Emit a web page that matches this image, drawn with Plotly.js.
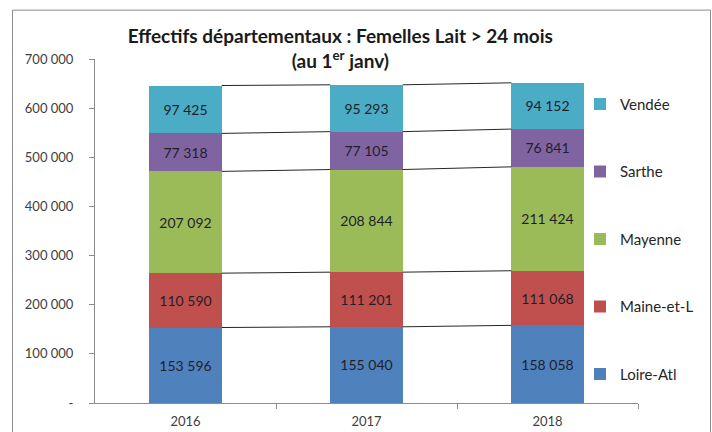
<!DOCTYPE html>
<html>
<head>
<meta charset="utf-8">
<script src="https://cdn.plot.ly/plotly-3.0.1.min.js"></script>
<style>html,body{margin:0;padding:0;background:#fff;}#chart{width:712px;height:432px;}</style>
</head>
<body>
<div id="chart"></div>
<script>
var years = ['2016', '2017', '2018'];
var seriesNames = ['Loire-Atl', 'Maine-et-L', 'Mayenne', 'Sarthe', 'Vendée'];
var loireAtl = [153596, 155040, 158058];
var maineEtL = [110590, 111201, 111068];
var mayenne = [207092, 208844, 211424];
var sarthe = [77318, 77105, 76841];
var vendee = [97425, 95293, 94152];
var colors = ['#4F81BD', '#C0504D', '#9BBB59', '#8064A2', '#4BACC6'];
var yTickVals = [0, 100000, 200000, 300000, 400000, 500000, 600000, 700000];
var yTickText = ['-', '100 000', '200 000', '300 000', '400 000', '500 000', '600 000', '700 000'];

var allSeries = [loireAtl, maineEtL, mayenne, sarthe, vendee];
var xIdx = years.map(function(_, i){ return i; });
var barW = 0.4;
var FONT = 'Lato, Carlito, "Open Sans", sans-serif';

function fmt(v){ return String(v).replace(/\B(?=(\d{3})+(?!\d))/g, ' '); }

var traces = [];
allSeries.forEach(function(vals, s){
  traces.push({
    type: 'bar', x: xIdx, y: vals, name: seriesNames[s],
    width: barW, marker: {color: colors[s], line: {width: 0}},
    text: vals.map(fmt), textposition: 'inside', insidetextanchor: 'middle',
    textangle: 0, constraintext: 'none',
    textfont: {family: FONT, size: 14, color: '#1f1f2a'},
    legendgroup: 'g' + s, legendrank: allSeries.length - s, hoverinfo: 'x+y+name'
  });
});

// series lines connecting stack boundaries
var cum = xIdx.map(function(){ return 0; });
var lx = [], ly = [];
allSeries.forEach(function(vals){
  cum = cum.map(function(c, i){ return c + vals[i]; });
  for (var i = 0; i < xIdx.length - 1; i++) {
    lx.push(xIdx[i] + barW/2, xIdx[i+1] - barW/2, null);
    ly.push(cum[i], cum[i+1], null);
  }
});
traces.push({type: 'scatter', mode: 'lines', x: lx, y: ly, showlegend: false,
  hoverinfo: 'skip', line: {color: '#262626', width: 1}});

var L = 95, R = 74, T = 59.3, B = 29.3;
var pw = 712 - L - R, ph = 432 - T - B;
function px2x(p){ return (p - L) / pw; }
function py2y(p){ return (432 - B - p) / ph; }

var layout = {
  width: 712, height: 432,
  margin: {l: L, r: R, t: T, b: B, pad: 0},
  paper_bgcolor: '#fff', plot_bgcolor: '#fff',
  barmode: 'stack',
  font: {family: FONT, color: '#404040'},
  title: {text: '<b>Effectifs départementaux : Femelles Lait &gt; 24 mois<br>(au 1<sup>er</sup> janv)</b>',
    x: 0.478, xanchor: 'center', y: 0.9, yanchor: 'top',
    font: {family: FONT, size: 19, color: '#1a1a1a'}},
  xaxis: {range: [-0.5, 2.5], tickmode: 'array', tickvals: xIdx, ticktext: years,
    showgrid: false, zeroline: false, showline: true, linecolor: '#8c8c8c', linewidth: 1,
    ticks: '', ticklabelstandoff: 6, tickfont: {family: FONT, size: 13, color: '#404040'}, fixedrange: true,
    minor: {tickmode: 'array', tickvals: [0.5, 1.5, 2.5], ticks: 'outside', ticklen: 5, tickcolor: '#8c8c8c', showgrid: false}},
  yaxis: {range: [0, 700000], tickmode: 'array', tickvals: yTickVals, ticktext: yTickText,
    showgrid: false, zeroline: false, showline: true, linecolor: '#8c8c8c', linewidth: 1,
    ticks: 'outside', ticklen: 5, tickcolor: '#8c8c8c', ticklabelstandoff: 13,
    tickfont: {family: FONT, size: 13, color: '#404040'}, fixedrange: true},
  showlegend: true,
  legend: {x: px2x(580), xanchor: 'left', y: py2y(88), yanchor: 'top',
    traceorder: 'grouped', tracegroupgap: 45,
    font: {family: FONT, size: 15, color: '#262626'}, bgcolor: 'rgba(0,0,0,0)', borderwidth: 0},
  shapes: [
    {type: 'rect', xref: 'paper', yref: 'paper', x0: px2x(12.5), x1: px2x(710.5), y0: py2y(440), y1: py2y(10.5),
     line: {color: '#8c8c8c', width: 1}, fillcolor: 'rgba(0,0,0,0)', layer: 'below'}
  ]
};

Plotly.newPlot('chart', traces, layout, {displayModeBar: false, staticPlot: true});
</script>
</body>
</html>
